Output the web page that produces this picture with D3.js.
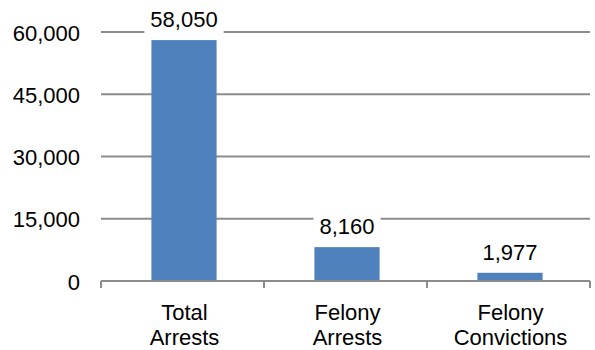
<!DOCTYPE html>
<html><head><meta charset="utf-8">
<script src="https://cdn.jsdelivr.net/npm/d3@7"></script>
<style>body{margin:0;background:#fff}svg{display:block}</style>
</head><body>
<svg id="c" width="595" height="350"></svg>
<script>
const categories = [["Total","Arrests"],["Felony","Arrests"],["Felony","Convictions"]];
const values = [58050, 8160, 1977];
const tickValues = [0, 15000, 30000, 45000, 60000];

const svg = d3.select("#c");
const font = "'Liberation Sans', Arial, sans-serif";
const fs = 22;
const m = {left:101, right:590, top:32, bottom:281};
const x = d3.scaleBand().domain(d3.range(categories.length)).range([m.left, m.right]).paddingInner(0.6).paddingOuter(0.3);
const y = d3.scaleLinear().domain([0, 60000]).range([m.bottom, m.top]);
const fmt = d3.format(",");

// gridlines
svg.append("g").selectAll("line").data(tickValues.filter(d=>d>0)).join("line")
  .attr("x1", m.left).attr("x2", m.right)
  .attr("y1", d=>y(d)).attr("y2", d=>y(d))
  .attr("stroke", "#8c8c8c").attr("stroke-width", 2);

// y labels
svg.append("g").selectAll("text").data(tickValues).join("text")
  .attr("x", 80).attr("y", d=>y(d)+8.5)
  .attr("text-anchor", "end").attr("font-family", font).attr("font-size", fs).attr("fill", "#000")
  .text(d=>fmt(d));

// bars
svg.append("g").selectAll("rect").data(values).join("rect")
  .attr("x", (d,i)=>x(i)+1.5).attr("width", x.bandwidth())
  .attr("y", d=>y(d)).attr("height", d=>y(0)-y(d))
  .attr("fill", "#4f81bd");

// x axis
const band = (m.right - m.left)/categories.length;
const ax = svg.append("g");
ax.append("line").attr("x1", m.left).attr("x2", m.right).attr("y1", y(0)).attr("y2", y(0))
  .attr("stroke", "#8c8c8c").attr("stroke-width", 2);
ax.selectAll("line.t").data(d3.range(categories.length+1)).join("line").attr("class","t")
  .attr("x1", i=>m.left+i*band).attr("x2", i=>m.left+i*band)
  .attr("y1", y(0)).attr("y2", y(0)+7)
  .attr("stroke", "#8c8c8c").attr("stroke-width", 2);

// value labels with white background
const lab = svg.append("g").selectAll("g").data(values).join("g");
lab.each(function(d,i){
  const g = d3.select(this);
  const cx = x(i)+x.bandwidth()/2+1.5;
  const by = y(d) - 13;
  const t = g.append("text").attr("x", cx).attr("y", by)
    .attr("text-anchor","middle").attr("font-family", font).attr("font-size", fs).attr("fill","#000")
    .text(fmt(d));
  const bb = t.node().getBBox();
  g.insert("rect","text").attr("x", bb.x-6).attr("y", by-20).attr("width", bb.width+12).attr("height", 26).attr("fill","#fff");
});

// category labels
svg.append("g").selectAll("text").data(categories).join("text")
  .attr("x", (d,i)=>m.left+(i+0.5)*band+2).attr("y", 320)
  .attr("text-anchor","middle").attr("font-family", font).attr("font-size", fs).attr("fill","#000")
  .each(function(d){
    const t = d3.select(this);
    d.forEach((s,k)=>t.append("tspan").attr("x", t.attr("x")).attr("dy", k===0 ? 0 : 25).text(s));
  });
</script>
</body></html>
